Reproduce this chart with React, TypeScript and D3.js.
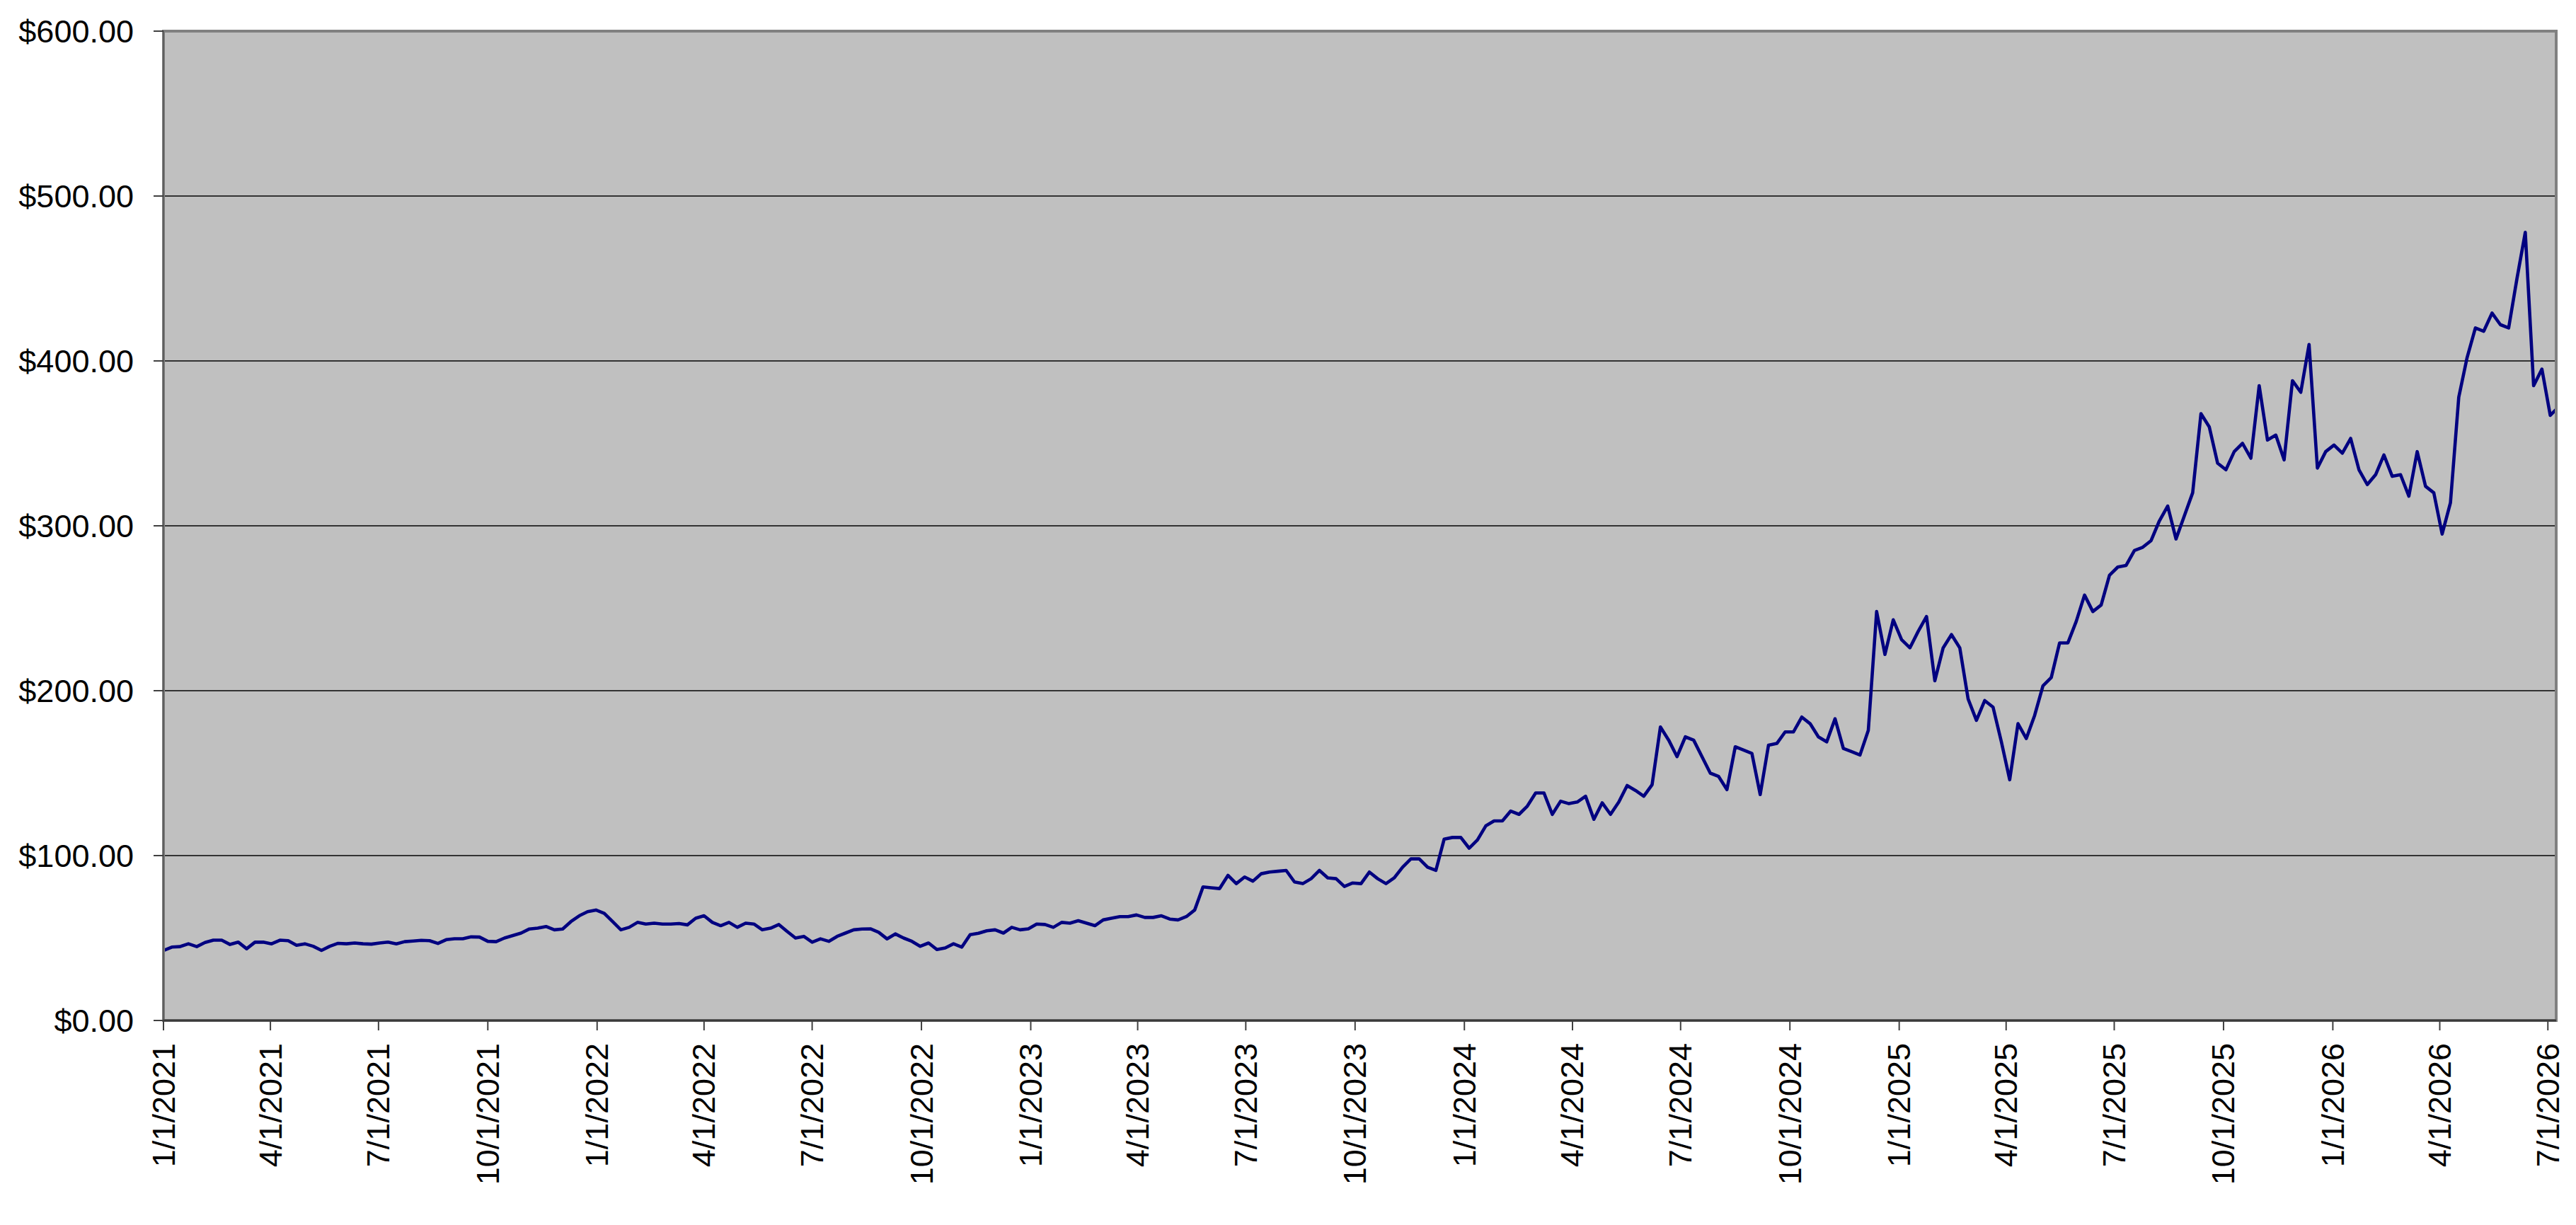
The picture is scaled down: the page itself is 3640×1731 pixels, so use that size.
import React, { useEffect, useRef } from 'react';
import * as d3 from 'd3';

// weekly closing price, first value on 1/1/2021, one value per 7 days
const startDate = '2021-01-01';
const weeklyClose = [
  42.4, 44.5, 44.8, 46.5, 44.8, 47.3, 48.7, 48.7, 46.1, 47.5,
  43.5, 47.5, 47.5, 46.5, 48.7, 48.4, 45.6, 46.5, 45.0, 42.5,
  45.0, 46.8, 46.5, 47.0, 46.5, 46.3, 47.0, 47.5, 46.5, 47.8,
  48.2, 48.6, 48.4, 46.7, 49.0, 49.6, 49.6, 50.7, 50.6, 48.0,
  47.8, 50.0, 51.5, 53.0, 55.5, 56.0, 57.0, 55.0, 55.5, 60.0,
  63.5, 66.0, 67.0, 65.0, 60.0, 55.0, 56.5, 59.5, 58.5, 59.0,
  58.5, 58.5, 58.8, 58.0, 62.0, 63.5, 59.5, 57.5, 59.5, 56.5,
  59.0, 58.5, 55.0, 56.0, 58.2, 54.0, 50.0, 51.0, 47.5, 49.5,
  48.0, 51.0, 53.0, 55.0, 55.5, 55.6, 53.5, 49.5, 52.5, 50.0,
  48.0, 45.0, 47.0, 43.0, 44.0, 46.5, 44.5, 52.0, 52.9, 54.4,
  55.0, 53.0, 56.5, 55.0, 55.6, 58.5, 58.2, 56.5, 59.5, 59.0,
  60.5, 59.0, 57.5, 61.0, 62.0, 63.0, 63.0, 64.0, 62.5, 62.5,
  63.5, 61.5, 61.0, 63.0, 67.0, 81.0, 80.5, 80.0, 88.0, 83.0,
  87.0, 84.5, 89.0, 90.0, 90.5, 91.0, 84.0, 83.0, 86.0, 91.0,
  86.5, 86.0, 81.3, 83.4, 83.0, 90.0, 86.0, 83.0, 86.5, 93.0,
  98.0, 98.0, 93.0, 91.0, 110.0, 111.0, 111.0, 104.5, 109.5, 118.0,
  121.0, 121.0, 127.0, 125.0, 130.0, 138.0, 138.0, 125.0, 133.0, 131.5,
  132.5, 136.0, 122.0, 132.0, 125.0, 132.5, 142.5, 139.5, 136.0, 143.0,
  178.0, 170.0, 160.0, 172.0, 170.0, 160.0, 150.0, 148.0, 140.0, 166.0,
  164.0, 162.0, 137.0, 167.0, 168.0, 175.0, 175.0, 184.0, 180.0, 172.0,
  169.0, 183.0, 165.0, 163.0, 161.0, 176.0, 248.0, 222.0, 243.0, 231.0,
  226.0, 236.0, 245.0, 206.0, 226.0, 234.0, 226.0, 195.0, 182.0, 194.0,
  190.0, 169.0, 146.0, 180.0, 171.0, 185.0, 203.0, 208.0, 229.0, 229.0,
  242.0, 258.0, 248.0, 252.0, 270.0, 275.0, 276.0, 285.0, 287.0, 291.0,
  303.0, 312.0, 292.0, 306.0, 320.0, 368.0, 360.0, 338.0, 334.0, 345.0,
  350.0, 341.0, 385.0, 352.0, 355.0, 340.0, 388.0, 381.0, 410.0, 335.0,
  345.0, 349.0, 344.0, 353.0, 334.0, 325.0, 331.0, 343.0, 330.0, 331.0,
  318.0, 345.0, 324.0, 320.0, 295.0, 314.0, 378.0, 402.0, 420.0, 418.0,
  429.0, 422.0, 420.0, 450.0, 478.0, 385.0, 395.0, 367.0, 372.0,
];
const axisEnd = '2026-07-08';

const yTicks = [0, 100, 200, 300, 400, 500, 600];
const xTickLabels = [
  '1/1/2021', '4/1/2021', '7/1/2021', '10/1/2021',
  '1/1/2022', '4/1/2022', '7/1/2022', '10/1/2022',
  '1/1/2023', '4/1/2023', '7/1/2023', '10/1/2023',
  '1/1/2024', '4/1/2024', '7/1/2024', '10/1/2024',
  '1/1/2025', '4/1/2025', '7/1/2025', '10/1/2025',
  '1/1/2026', '4/1/2026', '7/1/2026',
];

const FONT = "'Liberation Sans', Arial, sans-serif";

export default function App() {
  const svgRef = useRef<SVGSVGElement>(null);

  useEffect(() => {
    if (!svgRef.current) return;

    const width = 3640;
    const height = 1731;
    const margin = { top: 44, right: 28, bottom: 289, left: 231 };
    const w = width - margin.left - margin.right;
    const h = height - margin.top - margin.bottom;

    const parseIso = d3.timeParse('%Y-%m-%d');
    const parseUs = d3.timeParse('%m/%d/%Y');
    const start = parseIso(startDate)!;
    const data = weeklyClose.map((value, i) => ({ date: d3.timeDay.offset(start, 7 * i), value }));
    const ticks = xTickLabels.map(label => ({ label, date: parseUs(label)! }));

    const svg = d3.select(svgRef.current);
    svg.selectAll('*').remove();

    const x = d3.scaleTime().domain([start, parseIso(axisEnd)!]).range([0, w]);
    const y = d3.scaleLinear().domain([0, 600]).range([h, 0]);

    svg.append('defs').append('clipPath').attr('id', 'plot-clip')
      .append('rect').attr('width', w).attr('height', h);

    const g = svg.append('g').attr('transform', `translate(${margin.left},${margin.top})`);

    // plot area
    g.append('rect').attr('width', w).attr('height', h).attr('fill', '#c0c0c0');

    // gridlines
    g.selectAll('.grid')
      .data(yTicks.slice(1, -1))
      .enter().append('line')
      .attr('x1', 0).attr('x2', w)
      .attr('y1', d => y(d)).attr('y2', d => y(d))
      .attr('stroke', '#333').attr('stroke-width', 1.8);

    // price line
    const line = d3.line<{ date: Date; value: number }>()
      .x(d => x(d.date))
      .y(d => y(d.value));

    g.append('path')
      .datum(data)
      .attr('clip-path', 'url(#plot-clip)')
      .attr('fill', 'none')
      .attr('stroke', '#000080')
      .attr('stroke-width', 4.6)
      .attr('stroke-linejoin', 'round')
      .attr('d', line);

    // frame
    g.append('rect').attr('width', w).attr('height', h)
      .attr('fill', 'none').attr('stroke', '#808080').attr('stroke-width', 4);
    g.append('line').attr('x1', 0).attr('x2', 0).attr('y1', 0).attr('y2', h)
      .attr('stroke', '#555').attr('stroke-width', 1.5);
    g.append('line').attr('x1', 0).attr('x2', w).attr('y1', h).attr('y2', h)
      .attr('stroke', '#3a3a3a').attr('stroke-width', 3);

    // y axis
    const yAxis = g.append('g');
    yAxis.selectAll('line')
      .data(yTicks).enter().append('line')
      .attr('x1', -14).attr('x2', 0)
      .attr('y1', d => y(d)).attr('y2', d => y(d))
      .attr('stroke', '#404040').attr('stroke-width', 2);
    yAxis.selectAll('text')
      .data(yTicks).enter().append('text')
      .attr('x', -42)
      .attr('y', d => y(d))
      .attr('text-anchor', 'end')
      .attr('dominant-baseline', 'central')
      .attr('font-family', FONT)
      .attr('font-size', 45)
      .attr('fill', '#000')
      .text(d => `$${d.toFixed(2)}`);

    // x axis
    const xAxis = g.append('g');
    xAxis.selectAll('line')
      .data(ticks).enter().append('line')
      .attr('x1', d => x(d.date)).attr('x2', d => x(d.date))
      .attr('y1', h).attr('y2', h + 14)
      .attr('stroke', '#404040').attr('stroke-width', 2);
    xAxis.selectAll('text')
      .data(ticks).enter().append('text')
      .attr('transform', d => `translate(${x(d.date)},${h + 32}) rotate(-90)`)
      .attr('text-anchor', 'end')
      .attr('dominant-baseline', 'central')
      .attr('font-family', FONT)
      .attr('font-size', 45)
      .attr('fill', '#000')
      .text(d => d.label);
  }, []);

  return (
    <div style={{ position: 'absolute', left: 0, top: 0 }}>
      <svg ref={svgRef} width={3640} height={1731} style={{ display: 'block', background: '#fff' }} />
    </div>
  );
}
